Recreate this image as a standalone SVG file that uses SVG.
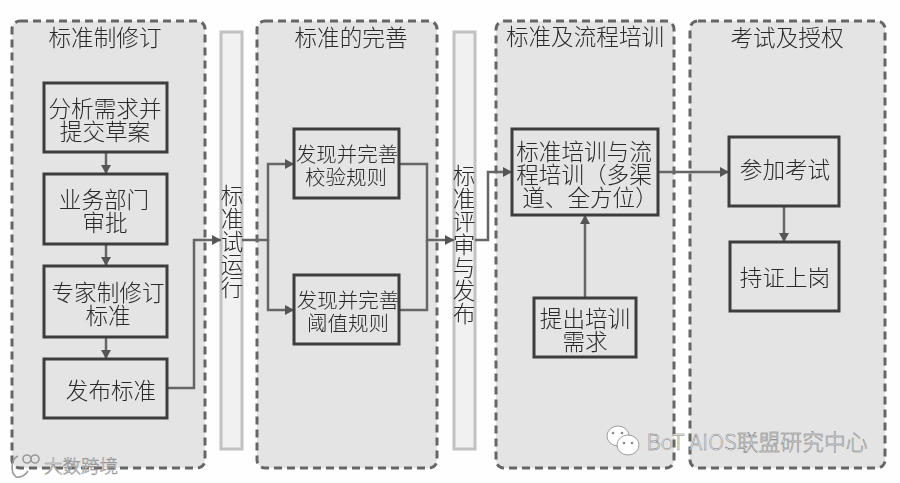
<svg xmlns="http://www.w3.org/2000/svg" width="900" height="483" viewBox="0 0 900 483">
<style>
text{font-family:"Noto Sans CJK SC","Noto Sans CJK JP",sans-serif;font-size:22.6px;font-weight:300;fill:#2a2a2a;text-anchor:middle}
.small{font-size:20.5px}
.panel{fill:#e4e4e4;stroke:#666;stroke-width:3;stroke-dasharray:8 5}
.bar{fill:#f1f1f1;stroke:#c2c2c2;stroke-width:3}
.box{fill:#e4e4e4;stroke:#3c3c3c;stroke-width:3}
.conn{fill:none;stroke:#666;stroke-width:2.5}
.wm{fill:#fff;stroke:#888;stroke-width:.8}
.wmd{fill:none;stroke:#999;stroke-width:1.6}
</style>
<defs>
<marker id="arrow" markerUnits="userSpaceOnUse" markerWidth="12" markerHeight="12" refX="10" refY="6" orient="auto"><path d="M1 1L10 6L1 11Z" fill="#555"/></marker>
<filter id="soft" x="-2%" y="-2%" width="104%" height="104%"><feGaussianBlur stdDeviation="0.45"/></filter>
</defs>
<rect width="900" height="483" fill="#fefefe"/>
<g filter="url(#soft)">
<g id="panel-revise"><rect class="panel" x="12" y="21" width="193" height="447" rx="8"/><text x="105" y="46">标准制修订</text></g>
<g id="panel-improve"><rect class="panel" x="257" y="21" width="180" height="447" rx="8"/><text x="351" y="46">标准的完善</text></g>
<g id="panel-train"><rect class="panel" x="496" y="21" width="178" height="447" rx="8"/><text x="585" y="45">标准及流程培训</text></g>
<g id="panel-exam"><rect class="panel" x="690" y="21" width="195" height="447" rx="8"/><text x="787" y="46">考试及授权</text></g>
<g id="bar-trial"><rect class="bar" x="221" y="32" width="21" height="417"/><text x="232" y="204">标<tspan x="232" dy="23">准</tspan><tspan x="232" dy="23">试</tspan><tspan x="232" dy="23">运</tspan><tspan x="232" dy="23">行</tspan></text></g>
<g id="bar-review"><rect class="bar" x="454" y="32" width="21" height="417"/><text x="464" y="184">标<tspan x="464" dy="23">准</tspan><tspan x="464" dy="23">评</tspan><tspan x="464" dy="23">审</tspan><tspan x="464" dy="23">与</tspan><tspan x="464" dy="23">发</tspan><tspan x="464" dy="23">布</tspan></text></g>
<g id="connectors">
<path class="conn" d="M106 152V174" marker-end="url(#arrow)"/>
<path class="conn" d="M106 244V266" marker-end="url(#arrow)"/>
<path class="conn" d="M106 337V359" marker-end="url(#arrow)"/>
<path class="conn" d="M167 388H194V240H221" marker-end="url(#arrow)"/>
<path class="conn" d="M242 240H268V164H294" marker-end="url(#arrow)"/>
<path class="conn" d="M268 240V310H294" marker-end="url(#arrow)"/>
<path class="conn" d="M399 164H427V240H454" marker-end="url(#arrow)"/>
<path class="conn" d="M399 310H427V240"/>
<path class="conn" d="M475 240H488V172H512" marker-end="url(#arrow)"/>
<path class="conn" d="M585 298V215" marker-end="url(#arrow)"/>
<path class="conn" d="M658 172H729" marker-end="url(#arrow)"/>
<path class="conn" d="M784 206V242" marker-end="url(#arrow)"/>
</g>
<g id="node-analyze"><rect class="box" x="44" y="83" width="123" height="69"/><text x="105" y="117">分析需求并<tspan x="105" dy="23">提交草案</tspan></text></g>
<g id="node-approve"><rect class="box" x="44" y="174" width="123" height="70"/><text x="104" y="208">业务部门<tspan x="105" dy="23">审批</tspan></text></g>
<g id="node-expert"><rect class="box" x="44" y="266" width="123" height="71"/><text x="108" y="301">专家制修订<tspan x="108" dy="23">标准</tspan></text></g>
<g id="node-publish"><rect class="box" x="44" y="359" width="123" height="59"/><text x="111" y="399">发布标准</text></g>
<g id="node-check"><rect class="box" x="294" y="129" width="105" height="69"/><text class="small" x="347" y="162">发现并完善<tspan x="346" dy="23">校验规则</tspan></text></g>
<g id="node-threshold"><rect class="box" x="294" y="275" width="105" height="69"/><text class="small" x="348" y="308">发现并完善<tspan x="348" dy="23">阈值规则</tspan></text></g>
<g id="node-training"><rect class="box" x="512" y="129" width="146" height="86"/><text x="584" y="160">标准培训与流<tspan x="584" dy="23">程培训（多渠</tspan><tspan x="590" dy="23">道、全方位）</tspan></text></g>
<g id="node-request"><rect class="box" x="534" y="298" width="102" height="59"/><text x="585" y="327">提出培训<tspan x="585" dy="23">需求</tspan></text></g>
<g id="node-exam"><rect class="box" x="729" y="137" width="110" height="69"/><text x="785" y="178">参加考试</text></g>
<g id="node-cert"><rect class="box" x="730" y="242" width="109" height="69"/><text x="785" y="286">持证上岗</text></g>
</g>
<g id="watermark-wechat">
<ellipse class="wm" cx="618" cy="436" rx="11" ry="10"/>
<ellipse class="wm" cx="628" cy="445" rx="11" ry="10"/>
<circle cx="613" cy="433" r="1.3" fill="#888"/><circle cx="622" cy="433" r="1.3" fill="#888"/><circle cx="624" cy="443" r="1.3" fill="#888"/><circle cx="632" cy="443" r="1.3" fill="#888"/>
<text x="757" y="450" style="font-size:21.8px;fill:#fff;stroke:#777;stroke-width:.5">BoT AIOS联盟研究中心</text>
</g>
<g id="watermark-brand">
<path class="wmd" d="M18 456C11 459 10 472 16 477C22 478 26 474 28 471"/>
<circle class="wmd" cx="27" cy="459" r="4"/><circle class="wmd" cx="35" cy="459" r="4"/>
<text x="81" y="473" style="font-size:18.5px;fill:#fff;stroke:#888;stroke-width:.5">大数跨境</text>
</g>
</svg>
